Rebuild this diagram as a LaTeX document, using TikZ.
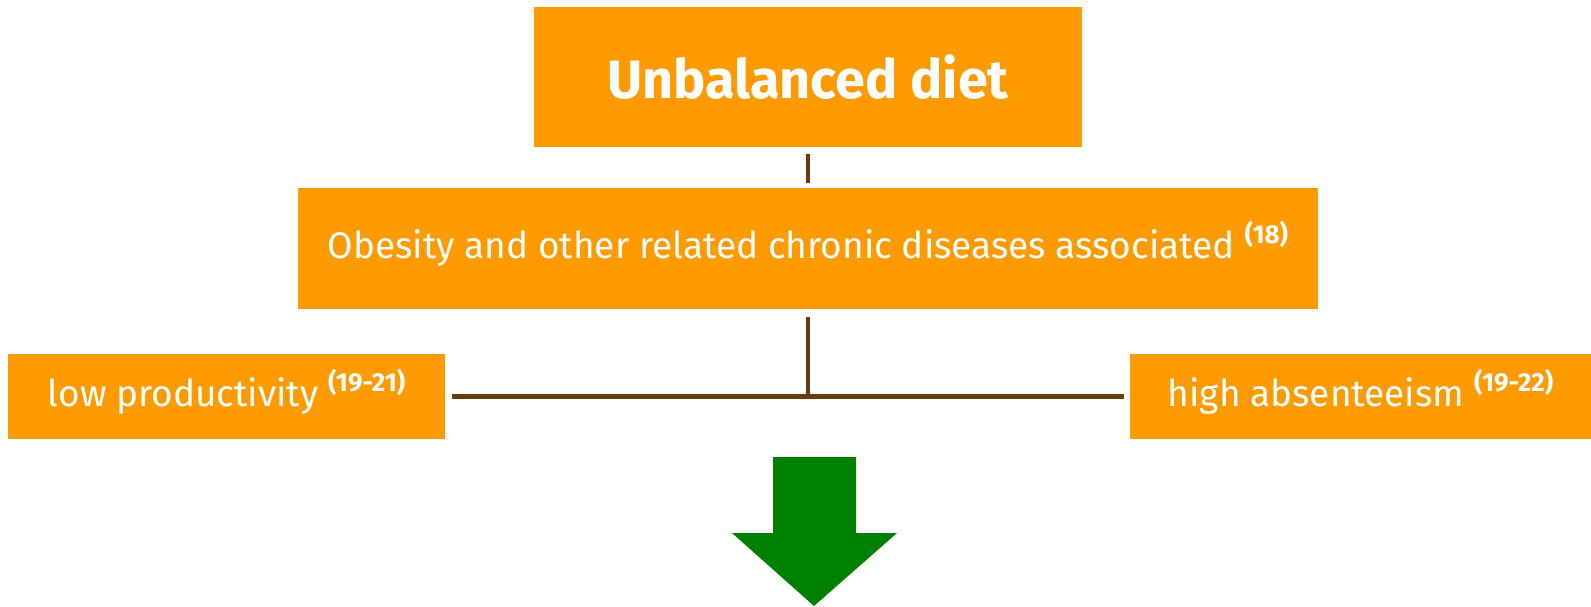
\documentclass[tikz,border=0pt]{standalone}
\usepackage{fontspec}
\setmainfont{Fira Sans}
\definecolor{boxorange}{HTML}{FD9A00}
\definecolor{linebrown}{HTML}{6B3A10}
\definecolor{arrowgreen}{HTML}{008000}
\newcommand{\refsup}[1]{\smash{\raisebox{0.42em}{\fontsize{26}{30}\selectfont\bfseries #1}}}
\begin{document}
\begin{tikzpicture}[x=1pt,y={(0,-1pt)},
  box/.style={fill=boxorange,draw=none,text=white,inner sep=0pt,anchor=center},
  conn/.style={draw=linebrown,line width=4.5pt}]
\useasboundingbox (0,0) rectangle (1591,606);
\node[box,minimum width=548,minimum height=140,font=\fontsize{54}{60}\selectfont\bfseries] (b1) at (808,77) {Unbalanced diet};
\node[box,minimum width=1020,minimum height=121,font=\fontsize{37}{42}\selectfont] (b2) at (808,248.5) {Obesity and other related chronic diseases associated \refsup{(18)}};
\node[box,minimum width=437,minimum height=85,font=\fontsize{37}{42}\selectfont] (lp) at (226.5,396.5) {low productivity \refsup{(19-21)}};
\node[box,minimum width=461,minimum height=85,font=\fontsize{37}{42}\selectfont] (ha) at (1360.5,396.5) {high absenteeism \refsup{(19-22)}};
\coordinate (j) at (808,396.5);
\draw[conn,shorten <=7pt,shorten >=5pt] (b1.south) -- (b1.south |- b2.north);
\draw[conn,shorten <=8pt] (b2.south) -- (j);
\draw[conn,shorten <=7pt,shorten >=6pt] (lp.east) -- (ha.west);
\fill[arrowgreen] (773,457) -- (856,457) -- (856,533) -- (897,533) -- (814,606) -- (732,533) -- (773,533) -- cycle;
\end{tikzpicture}
\end{document}
